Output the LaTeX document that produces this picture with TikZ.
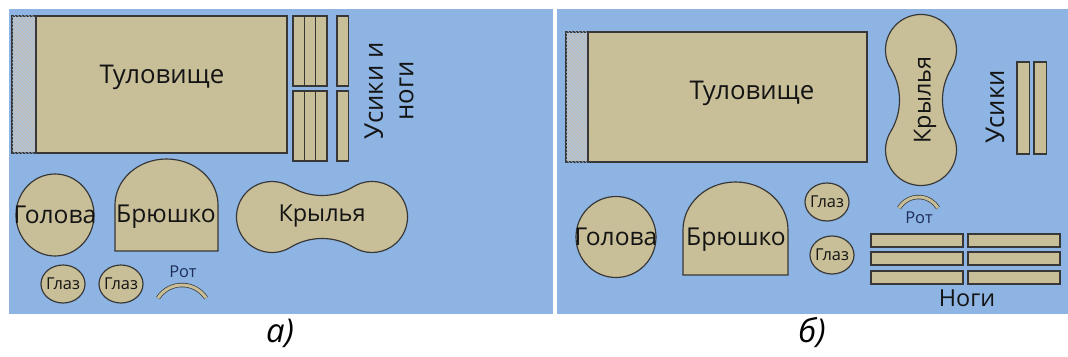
\documentclass[tikz,border=0pt]{standalone}
\usepackage{fontspec}
\setmainfont{Open Sans}
\usetikzlibrary{patterns}
\definecolor{panelblue}{RGB}{141,180,226}
\definecolor{parttan}{RGB}{200,190,152}
\definecolor{partline}{RGB}{55,55,55}
\definecolor{hatchgrey}{RGB}{192,192,190}
\definecolor{mouthtext}{RGB}{30,45,90}
\tikzset{
  part/.style={draw=partline, fill=parttan, line width=1pt},
  hatch/.style={draw=partline, line width=1pt, fill=hatchgrey,
    postaction={pattern=north west lines, pattern color=panelblue!85!white}},
  mouth/.style={draw=partline, line width=0.6pt, double=parttan, double distance=0.09cm},
  word/.style={inner sep=0pt, text=black!92},
  bigword/.style={word, font=\fontsize{22}{26}\selectfont},
  midword/.style={word, font=\fontsize{20}{24}\selectfont},
  smallword/.style={word, font=\fontsize{14}{16}\selectfont},
  caption/.style={inner sep=0pt, text=black, font=\fontsize{28}{30}\selectfont\itshape},
  wings/.pic={
    \draw[part] (-31.57,30.34) arc[start angle=238.7, end angle=301.3, radius=60.79]
      arc[start angle=121.3, end angle=-121.3, radius=35.5]
      arc[start angle=58.7, end angle=121.3, radius=60.79]
      arc[start angle=-58.7, end angle=-301.3, radius=35.5] -- cycle;
  }
}
\begin{document}
\begin{tikzpicture}[x=0.03cm, y=0.03cm]
    \useasboundingbox (0,0) rectangle (1068,356);
    \fill[white] (0,0) rectangle (1068,356);
    % panels
    \fill[panelblue] (9,42) rectangle (553,347);
    \fill[panelblue] (557,42) rectangle (1068,347);

    % --- a) ---
    \draw[hatch] (12,340) rectangle (36,203);
    \draw[part] (36,340) rectangle (287,203);
    \node[bigword] (bodyA) at (162,279) {Туловище};
    \foreach \x in {293,304.3,315.7,337} {
        \draw[part] (\x,340) rectangle ++(11.3,-70);
        \draw[part] (\x,265) rectangle ++(11.3,-70);
    }
    \node[bigword, rotate=90, align=center] (legsA) at (389,265) {Усики и\\ноги};
    \draw[part] (55,141) ellipse[x radius=39, y radius=41];
    \node[midword, font=\fontsize{21}{24}\selectfont] (headA) at (55,141) {Голова};
    \draw[part] (115,105) -- (115,151) arc[start angle=180, end angle=0, x radius=51.5, y radius=46] -- (218,105) -- cycle;
    \node[midword, font=\fontsize{21}{24}\selectfont] (bellyA) at (166,139) {Брюшко};
    \pic at (322,139) {wings};
    \node[midword] (wingsA) at (322,140) {Крылья};
    \draw[part] (63,72) ellipse[x radius=22, y radius=19];
    \draw[part] (121,72) ellipse[x radius=22, y radius=19];
    \node[smallword] (eyeA1) at (63,72) {Глаз};
    \node[smallword] (eyeA2) at (121,72) {Глаз};
    \draw[mouth] (158,58) arc[start angle=146.9, end angle=33.1, radius=28.65];
    \node[smallword, text=mouthtext] (mouthA) at (183,84) {Рот};

    % --- б) ---
    \draw[hatch] (566,324) rectangle (588,194);
    \draw[part] (588,324) rectangle (867,194);
    \node[bigword] (bodyB) at (752,263) {Туловище};
    \pic[rotate=90] at (921,256) {wings};
    \node[midword, rotate=90] (wingsB) at (925,256) {Крылья};
    \node[bigword, rotate=90] (feelersB) at (995,249) {Усики};
    \foreach \x in {1017,1034}
        \draw[part] (\x,294) rectangle ++(12.5,-92);
    \draw[part] (616,119) ellipse[x radius=40, y radius=40.5];
    \node[midword, font=\fontsize{21}{24}\selectfont] (headB) at (616,119) {Голова};
    \draw[part] (683,81) -- (683,126) arc[start angle=180, end angle=0, x radius=52.5, y radius=48] -- (788,81) -- cycle;
    \node[midword, font=\fontsize{21}{24}\selectfont] (bellyB) at (736,116) {Брюшко};
    \draw[part] (827,154) ellipse[x radius=22, y radius=19];
    \draw[part] (832,101) ellipse[x radius=22, y radius=19];
    \node[smallword] (eyeB1) at (827,154) {Глаз};
    \node[smallword] (eyeB2) at (832,101) {Глаз};
    \draw[mouth] (899,148) arc[start angle=148.8, end angle=31.2, radius=22.8];
    \node[smallword, text=mouthtext] (mouthB) at (919,138) {Рот};
    \foreach \y in {122,104,85}
        \foreach \x in {871,968}
            \draw[part] (\x,\y) rectangle ++(92,-13);
    \node[midword] (legsB) at (967,58) {Ноги};

    % captions
    \node[caption] (capA) at (280,23) {а)};
    \node[caption] (capB) at (812,23) {б)};
\end{tikzpicture}
\end{document}
